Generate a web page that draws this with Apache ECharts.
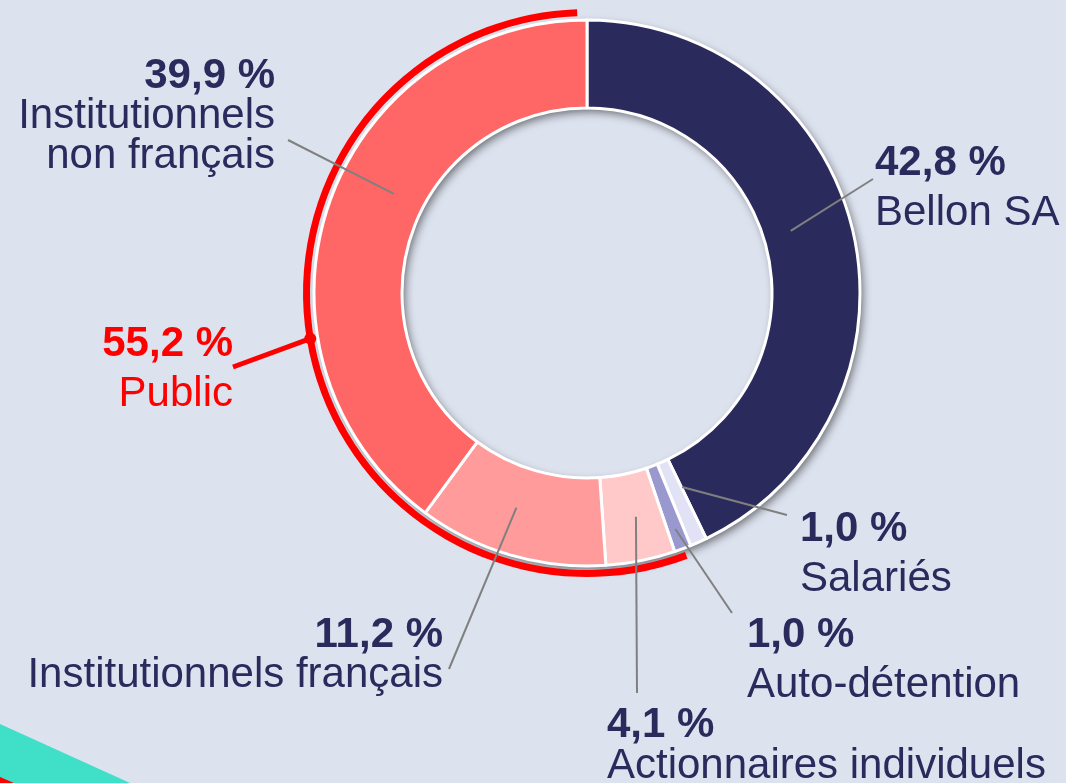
<!DOCTYPE html>
<html>
<head>
<meta charset="utf-8">
<script src="https://cdn.jsdelivr.net/npm/echarts@6/dist/echarts.min.js"></script>
<style>
  html, body { margin: 0; padding: 0; background: #dce2ee; }
  #chart { width: 1066px; height: 783px; }
</style>
</head>
<body>
<div id="chart"></div>
<script>
  // shareholding breakdown (%), clockwise from 12 o'clock
  const names = ['Bellon SA', 'Salariés', 'Auto-détention', 'Actionnaires individuels', 'Institutionnels français', 'Institutionnels\nnon français'];
  const shares = [42.8, 1.0, 1.0, 4.1, 11.2, 39.9];
  const colors = ['#2b2a5c', '#e2e2f6', '#9999d0', '#ffc9c9', '#ff9b9b', '#ff6666'];

  // "Public" outer arc = the last three groups
  const groupNames = ['', 'Public'];
  const groupShares = [44.8, 55.2];

  const center = [587, 293];
  const ringRadius = [185, 273];
  const arcRadius = [277, 284];
  const font = 'Liberation Sans, Arial, sans-serif';
  const navy = '#2b2a5c';

  // where each label sits and where its leader line ends
  const labelBox = [
    { x: 875, y: 138, align: 'left',  lh: 50, end: [873, 179], r: 213, da: -4 },
    { x: 800, y: 504, align: 'left',  lh: 50, end: [787, 515], r: 216, da: -2 },
    { x: 747, y: 610, align: 'left',  lh: 50, end: [732, 613], r: 252, da: 0 },
    { x: 607, y: 705, align: 'left',  lh: 41, end: [637, 693], r: 229, da: -1 },
    { x: 443, y: 615, align: 'right', lh: 40, end: [449, 669], r: 226, da: 2 },
    { x: 275, y: 56,  align: 'right', lh: 40, end: [288, 140], r: 217, da: 9 }
  ];
  const publicBox = { x: 233, y: 319, align: 'right', lh: 50, end: [233, 367] };

  const pct = v => v.toFixed(1).replace('.', ',') + ' %';

  const midAngle = (list, i) => {
    const total = list.reduce((a, b) => a + b, 0);
    const before = list.slice(0, i).reduce((a, b) => a + b, 0);
    return (before + list[i] / 2) / total * 360;
  };
  const polar = (deg, r) => {
    const a = deg * Math.PI / 180;
    return [center[0] + r * Math.sin(a), center[1] - r * Math.cos(a)];
  };

  const rich = {};
  [40, 41, 50].forEach(lh => {
    rich['v' + lh] = { fontFamily: font, fontSize: 42, fontWeight: 'bold', color: navy, lineHeight: lh };
    rich['n' + lh] = { fontFamily: font, fontSize: 42, color: navy, lineHeight: lh };
  });
  rich.pv = { fontFamily: font, fontSize: 42, fontWeight: 'bold', color: '#ff0000', lineHeight: 50 };
  rich.pn = { fontFamily: font, fontSize: 42, color: '#ff0000', lineHeight: 50 };

  const dot = polar(midAngle(groupShares, 1), (arcRadius[0] + arcRadius[1]) / 2);

  const myChart = echarts.init(document.getElementById('chart'));

  const option = {
    backgroundColor: '#dce2ee',
    animation: false,
    graphic: [
      { type: 'polygon', silent: true, shape: { points: [[0, 724], [130, 783], [0, 783]] }, style: { fill: '#40dfc7' } },
      { type: 'polygon', silent: true, shape: { points: [[0, 777], [14, 783], [0, 783]] }, style: { fill: '#ff0000' } },
      { type: 'circle', silent: true, z: 100, shape: { cx: dot[0], cy: dot[1], r: 6 }, style: { fill: '#ff0000' } }
    ],
    series: [
      {
        // ring shadow only
        type: 'pie',
        silent: true,
        z: 1,
        center: center,
        radius: ringRadius,
        label: { show: false },
        labelLine: { show: false },
        itemStyle: {
          color: '#ffffff',
          shadowBlur: 9,
          shadowOffsetX: 3,
          shadowOffsetY: 4,
          shadowColor: 'rgba(0, 0, 0, 0.5)'
        },
        data: [{ value: 1, name: 'shadow' }]
      },
      {
        type: 'pie',
        silent: true,
        z: 2,
        center: center,
        radius: arcRadius,
        startAngle: 92,
        clockwise: true,
        avoidLabelOverlap: false,
        label: {
          show: true,
          position: 'outside',
          formatter: p => '{pv|' + pct(p.value) + '}\n{pn|' + p.name + '}',
          rich: rich
        },
        labelLine: { show: true, lineStyle: { color: '#ff0000', width: 5 } },
        labelLayout: function (p) {
          if (p.dataIndex !== 1) return {};
          return {
            x: publicBox.x,
            y: publicBox.y,
            align: publicBox.align,
            verticalAlign: 'top',
            labelLinePoints: [dot, publicBox.end, publicBox.end]
          };
        },
        data: groupNames.map((n, i) => i === 0
          ? { value: groupShares[i], name: n, itemStyle: { color: 'rgba(0,0,0,0)' }, label: { show: false }, labelLine: { show: false } }
          : { value: groupShares[i], name: n, itemStyle: { color: '#ff0000' } })
      },
      {
        // the ring itself
        type: 'pie',
        silent: true,
        z: 2,
        center: center,
        radius: ringRadius,
        startAngle: 90,
        clockwise: true,
        itemStyle: { borderColor: '#ffffff', borderWidth: 3 },
        label: { show: false },
        labelLine: { show: false },
        data: names.map((n, i) => ({ value: shares[i], name: n, itemStyle: { color: colors[i] } }))
      },
      {
        // transparent copy on top, carries the labels and leader lines
        type: 'pie',
        silent: true,
        z: 5,
        center: center,
        radius: ringRadius,
        startAngle: 90,
        clockwise: true,
        avoidLabelOverlap: false,
        itemStyle: { color: 'rgba(0,0,0,0)' },
        label: {
          show: true,
          position: 'outside',
          formatter: function (p) {
            const lh = labelBox[p.dataIndex].lh;
            const lines = p.name.split('\n').map(t => '{n' + lh + '|' + t + '}');
            return ['{v' + lh + '|' + pct(p.value) + '}'].concat(lines).join('\n');
          },
          rich: rich
        },
        labelLine: { show: true, lineStyle: { color: '#808080', width: 2 } },
        labelLayout: function (p) {
          const b = labelBox[p.dataIndex];
          const s = polar(midAngle(shares, p.dataIndex) + b.da, b.r);
          return {
            x: b.x,
            y: b.y,
            align: b.align,
            verticalAlign: 'top',
            labelLinePoints: [s, b.end, b.end]
          };
        },
        data: names.map((n, i) => ({ value: shares[i], name: n }))
      }
    ]
  };

  myChart.setOption(option);
</script>
</body>
</html>
